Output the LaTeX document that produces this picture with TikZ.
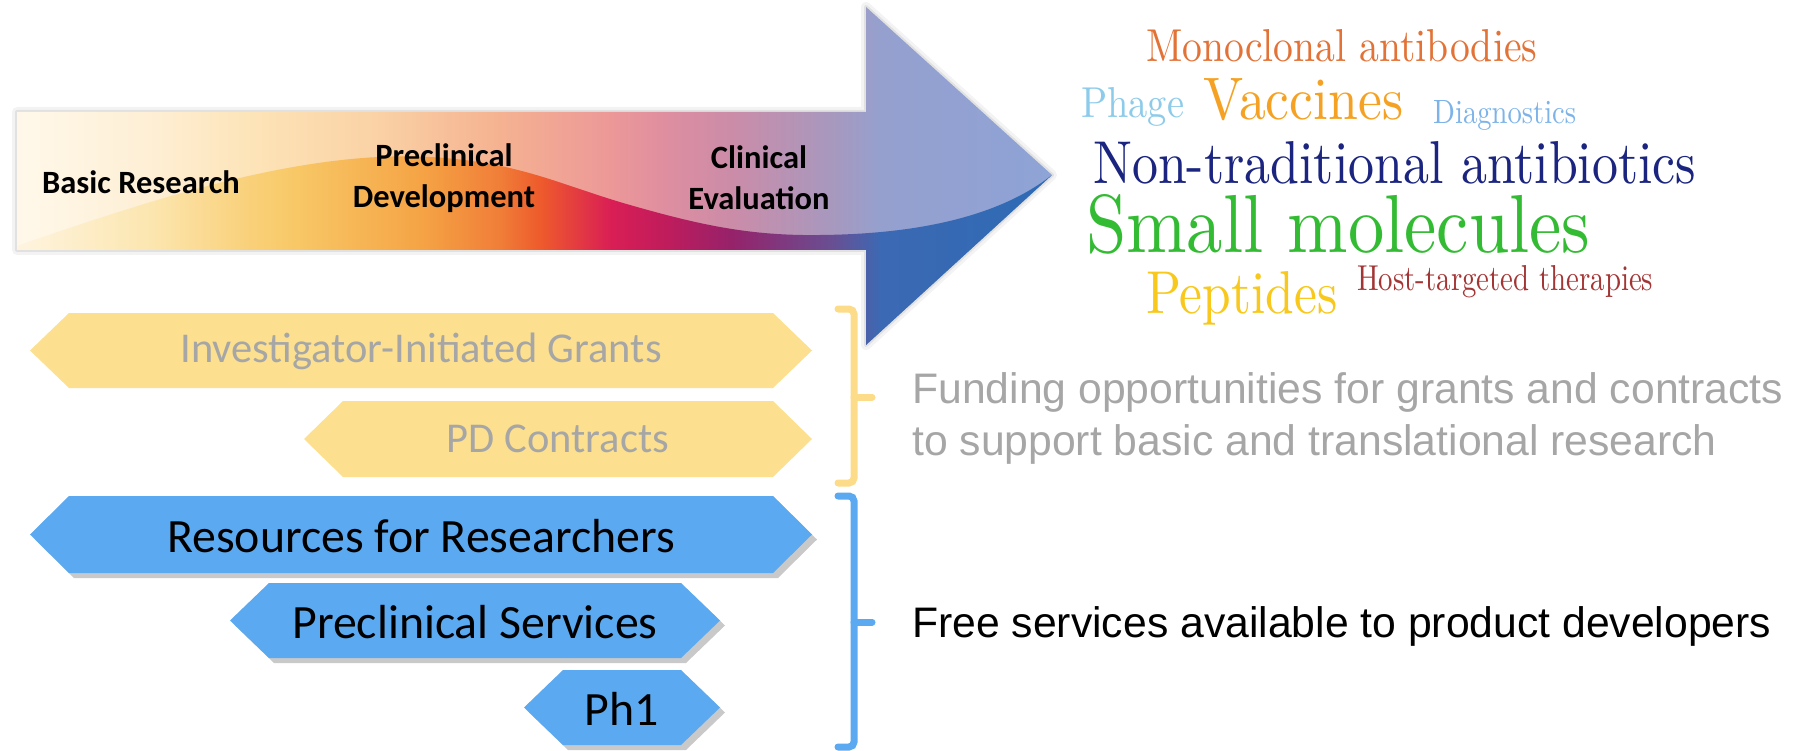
\documentclass[tikz,border=0pt]{standalone}
\usepackage{fontspec}
\usepackage{graphicx}
\newfontfamily\calfont{Carlito}
\newfontfamily\arialfont{Liberation Sans}
\usetikzlibrary{shadows}

\definecolor{hexyellow}{HTML}{FCE08F}
\definecolor{hexblue}{HTML}{5BA9F0}
\definecolor{graytext}{HTML}{A6A6A6}
\definecolor{brackyellow}{HTML}{FCDC88}
\definecolor{brackblue}{HTML}{5BA9F0}
\definecolor{cmono}{HTML}{E27236}
\definecolor{cphage}{HTML}{8DCBEA}
\definecolor{cvacc}{HTML}{F5A224}
\definecolor{cdiag}{HTML}{7DB3E8}
\definecolor{cnontrad}{HTML}{1B2580}
\definecolor{csmall}{HTML}{33BB33}
\definecolor{cpept}{HTML}{F8C81C}
\definecolor{chost}{HTML}{A33535}

% upper (light) colours along the arrow
\definecolor{ua}{HTML}{FFF8EA}
\definecolor{ub}{HTML}{FEEFD5}
\definecolor{uc}{HTML}{FDE4B8}
\definecolor{ud}{HTML}{FAD2A5}
\definecolor{ue}{HTML}{F5B291}
\definecolor{uf}{HTML}{EC9898}
\definecolor{ug}{HTML}{DF8EA0}
\definecolor{uh}{HTML}{CB8CA8}
\definecolor{ui}{HTML}{A898BE}
\definecolor{uj}{HTML}{95A0CE}
\definecolor{uk}{HTML}{8EA3D6}
% lower (saturated) colours along the arrow
\definecolor{la}{HTML}{FEF4DF}
\definecolor{lb}{HTML}{FCE6B0}
\definecolor{lc}{HTML}{F9D079}
\definecolor{ld}{HTML}{F8C968}
\definecolor{le}{HTML}{F5A445}
\definecolor{lf}{HTML}{F07E38}
\definecolor{lg}{HTML}{EE5A2C}
\definecolor{lh}{HTML}{D91E55}
\definecolor{li}{HTML}{C01C5C}
\definecolor{lj}{HTML}{96226A}
\definecolor{lk}{HTML}{6A4E92}
\definecolor{ll}{HTML}{3C69B3}
\definecolor{lm}{HTML}{2E6AB4}

\pgfdeclarehorizontalshading{arrowupper}{100bp}{color(0bp)=(ua); color(25bp)=(ua); color(31.4bp)=(ub); color(36.3bp)=(uc); color(42.3bp)=(ud); color(48.3bp)=(ue); color(53.7bp)=(uf); color(56.3bp)=(ug); color(59.5bp)=(uh); color(64.3bp)=(ui); color(66.7bp)=(uj); color(75bp)=(uk); color(100bp)=(uk)}
\pgfdeclarehorizontalshading{arrowlower}{100bp}{color(0bp)=(la); color(25bp)=(la); color(31.4bp)=(lb); color(36.3bp)=(lc); color(38.2bp)=(ld); color(44.5bp)=(le); color(48.3bp)=(lf); color(50.3bp)=(lg); color(53.7bp)=(lh); color(56.3bp)=(li); color(59.5bp)=(lj); color(64.3bp)=(lk); color(66.7bp)=(ll); color(75bp)=(lm); color(100bp)=(lm)}

\tikzset{
  stagelabel/.style={font=\calfont\bfseries\fontsize{32.5}{41}\selectfont, align=center, inner sep=0pt, text=black},
  hexyel/.style={fill=hexyellow},
  hexblu/.style={fill=hexblue, drop shadow={shadow xshift=5pt, shadow yshift=-5pt, opacity=0.3, fill=black!70}},
  hexgraytext/.style={font=\calfont\fontsize{42.5}{50}\selectfont, text=graytext, inner sep=0pt},
  hexblacktext/.style={font=\calfont\fontsize{47.8}{56}\selectfont, text=black, inner sep=0pt},
  cloud/.style={anchor=base west, inner sep=0pt},
  sidetext/.style={anchor=base west, inner sep=0pt, font=\arialfont\fontsize{42.7}{50}\selectfont},
  bracket/.style={line width=7pt, rounded corners=5pt, line cap=round},
}

\begin{document}
\begin{tikzpicture}[x=1pt,y=-1pt]
\useasboundingbox (0,0) rectangle (1803,751);

% ---- big arrow: soft glow ----
\draw[line width=10pt, draw=black!45, opacity=.10, line join=round]
  (17,112) -- (866,112) -- (866,7) -- (1052,175) -- (866,345) -- (866,250) -- (17,250) -- cycle;
\draw[line width=4pt, draw=black!45, opacity=.18, line join=round]
  (17,112) -- (866,112) -- (866,7) -- (1052,175) -- (866,345) -- (866,250) -- (17,250) -- cycle;
% upper light part
\shade[shading=arrowupper]
  (17,112) -- (866,112) -- (866,7) -- (1052,175) -- (866,345) -- (866,250) -- (17,250) -- cycle;
% lower saturated wave
\begin{scope}
  \clip (17,112) -- (866,112) -- (866,7) -- (1052,175) -- (866,345) -- (866,250) -- (17,250) -- cycle;
  \clip (0,246) -- (17,246) .. controls (150,200) and (300,150) .. (430,157)
        .. controls (520,162) and (560,185) .. (630,205)
        .. controls (700,225) and (750,236) .. (820,235)
        .. controls (930,234) and (1005,212) .. (1052,175)
        -- (1100,175) -- (1100,400) -- (0,400) -- cycle;
  \shade[shading=arrowlower] (17,0) rectangle (1052,360);
\end{scope}

% ---- stage labels ----
\node[stagelabel] (basic) at (141,182) {Basic Research};
\node[stagelabel] (precl) at (444,178) {Preclinical\\Development};
\node[stagelabel] (clin) at (759,178) {Clinical\\Evaluation};

% ---- word cloud ----
\node[cloud, text=cmono] (mono) at (1146,62) {\resizebox{391pt}{32pt}{Monoclonal antibodies}};
\node[cloud, text=cphage] (phage) at (1081,118) {\resizebox{103pt}{30pt}{Phage}};
\node[cloud, text=cvacc] (vacc) at (1203,120) {\resizebox{200pt}{41pt}{Vaccines}};
\node[cloud, text=cdiag] (diag) at (1433,124) {\resizebox{143pt}{23pt}{Diagnostics}};
\node[cloud, text=cnontrad] (nontrad) at (1093,184) {\resizebox{603pt}{42pt}{Non-traditional antibiotics}};
\node[cloud, text=csmall] (small) at (1086,252) {\resizebox{504pt}{58pt}{Small molecules}};
\node[cloud, text=cpept] (pept) at (1146,313) {\resizebox{191pt}{42pt}{Peptides}};
\node[cloud, text=chost] (host) at (1357,290) {\resizebox{296pt}{25pt}{Host-targeted therapies}};

% ---- hexagon banners ----
\fill[hexyel] (30,350.5) -- (69,313) -- (773,313) -- (812,350.5) -- (773,388) -- (69,388) -- cycle;
\node[hexgraytext] (iig) at (421,351) {Investigator-Initiated Grants};

\fill[hexyel] (304,439) -- (343,401) -- (773,401) -- (812,439) -- (773,477) -- (343,477) -- cycle;
\node[hexgraytext] (pd) at (558,439) {PD Contracts};

\fill[hexblu] (30,534.5) -- (69,496) -- (773,496) -- (812,534.5) -- (773,573) -- (69,573) -- cycle;
\node[hexblacktext] (rfr) at (421,536) {Resources for Researchers};

\fill[hexblu] (230,620.5) -- (269,583) -- (681,583) -- (720,620.5) -- (681,658) -- (269,658) -- cycle;
\node[hexblacktext] (ps) at (475,622) {Preclinical Services};

\fill[hexblu] (524,707.5) -- (563,670) -- (681,670) -- (720,707.5) -- (681,745) -- (563,745) -- cycle;
\node[hexblacktext] (ph1) at (622,709) {Ph1};

% ---- brackets ----
\draw[bracket, draw=brackyellow] (838,309) -| (854,483) -- (838,483);
\draw[line width=7pt, line cap=round, draw=brackyellow] (854,397) -- (872,397);
\draw[bracket, draw=brackblue] (838,496) -| (854,747) -- (838,747);
\draw[line width=7pt, line cap=round, draw=brackblue] (854,622) -- (872,622);

% ---- side texts ----
\node[sidetext, text=graytext] (fund1) at (912,403) {Funding opportunities for grants and contracts};
\node[sidetext, text=graytext] (fund2) at (912,455) {to support basic and translational research};
\node[sidetext, text=black] (free) at (912,637) {Free services available to product developers};
\end{tikzpicture}
\end{document}
